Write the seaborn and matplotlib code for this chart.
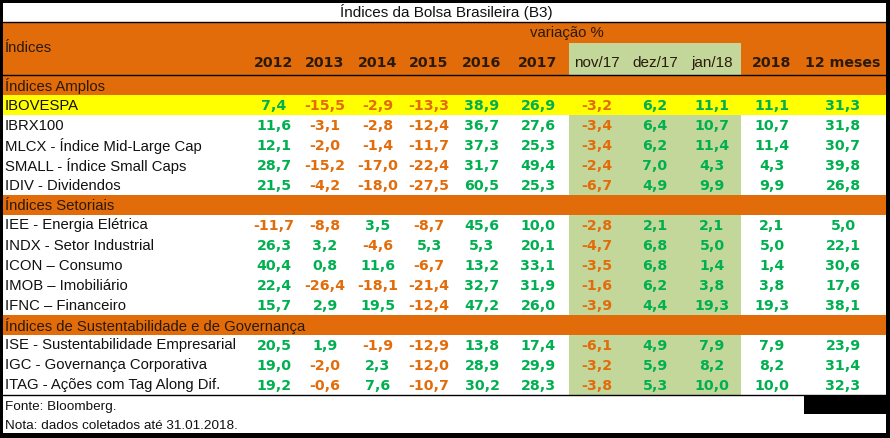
import numpy as np
import pandas as pd
import matplotlib
matplotlib.use("Agg")
import matplotlib.pyplot as plt
from matplotlib.patches import Rectangle
import seaborn as sns

# ========== DATA ==========
title = "Índices da Bolsa Brasileira (B3)"
col_labels = ["2012", "2013", "2014", "2015", "2016", "2017",
              "nov/17", "dez/17", "jan/18", "2018", "12 meses"]
bold_cols = [True] * 6 + [False] * 3 + [True] * 2

sections = ["Índices Amplos", "Índices Setoriais",
            "Índices de Sustentabilidade e de Governança"]

amplos_names = ["IBOVESPA", "IBRX100", "MLCX - Índice Mid-Large Cap",
                "SMALL - Índice Small Caps", "IDIV - Dividendos"]
amplos_vals = [
    [7.4, -15.5, -2.9, -13.3, 38.9, 26.9, -3.2, 6.2, 11.1, 11.1, 31.3],
    [11.6, -3.1, -2.8, -12.4, 36.7, 27.6, -3.4, 6.4, 10.7, 10.7, 31.8],
    [12.1, -2.0, -1.4, -11.7, 37.3, 25.3, -3.4, 6.2, 11.4, 11.4, 30.7],
    [28.7, -15.2, -17.0, -22.4, 31.7, 49.4, -2.4, 7.0, 4.3, 4.3, 39.8],
    [21.5, -4.2, -18.0, -27.5, 60.5, 25.3, -6.7, 4.9, 9.9, 9.9, 26.8],
]

setoriais_names = ["IEE - Energia Elétrica", "INDX - Setor Industrial",
                   "ICON – Consumo", "IMOB – Imobiliário", "IFNC – Financeiro"]
setoriais_vals = [
    [-11.7, -8.8, 3.5, -8.7, 45.6, 10.0, -2.8, 2.1, 2.1, 2.1, 5.0],
    [26.3, 3.2, -4.6, 5.3, 5.3, 20.1, -4.7, 6.8, 5.0, 5.0, 22.1],
    [40.4, 0.8, 11.6, -6.7, 13.2, 33.1, -3.5, 6.8, 1.4, 1.4, 30.6],
    [22.4, -26.4, -18.1, -21.4, 32.7, 31.9, -1.6, 6.2, 3.8, 3.8, 17.6],
    [15.7, 2.9, 19.5, -12.4, 47.2, 26.0, -3.9, 4.4, 19.3, 19.3, 38.1],
]

sust_names = ["ISE - Sustentabilidade Empresarial",
              "IGC - Governança Corporativa",
              "ITAG - Ações com Tag Along Dif."]
sust_vals = [
    [20.5, 1.9, -1.9, -12.9, 13.8, 17.4, -6.1, 4.9, 7.9, 7.9, 23.9],
    [19.0, -2.0, 2.3, -12.0, 28.9, 29.9, -3.2, 5.9, 8.2, 8.2, 31.4],
    [19.2, -0.6, 7.6, -10.7, 30.2, 28.3, -3.8, 5.3, 10.0, 10.0, 32.3],
]

highlight_row = "IBOVESPA"
footnotes = ["Fonte: Bloomberg.", "Nota: dados coletados até 31.01.2018."]

# ========== STYLE ==========
ORANGE = "#E26B0A"
GREEN_BG = "#C4D79B"
YELLOW = "#FFFF00"
POS = "#00B050"
NEG = "#E26B0A"
HDR_TXT = "#2A1A0A"

sns.set_style("white")
plt.rcParams["font.family"] = ["Liberation Sans", "DejaVu Sans"]
NUM_FONT = ["DejaVu Sans"]

col_x = [274, 325, 378, 429, 482, 538, 597, 655, 712, 772, 843]
FS = 10.7
NFS = 10.2

fig = plt.figure(figsize=(8.9, 4.38), dpi=100)
ax = fig.add_axes([0, 0, 1, 1])
ax.set_xlim(0, 890)
ax.set_ylim(438, 0)
ax.axis("off")

# title and header
ax.text(446, 12, title, ha="center", va="center", fontsize=FS + 0.3, color="#111111")
ax.add_patch(Rectangle((3, 22), 883, 53, color=ORANGE, lw=0))
ax.add_patch(Rectangle((569, 43), 172, 32, color=GREEN_BG, lw=0))
ax.plot([3, 886], [22, 22], color="black", lw=1)
ax.plot([3, 886], [75, 75], color="black", lw=1)
ax.text(5, 48, "Índices", ha="left", va="center", fontsize=FS, color=HDR_TXT)
ax.text(567, 33, "variação %", ha="center", va="center", fontsize=FS, color=HDR_TXT)
for x, lab, b in zip(col_x, col_labels, bold_cols):
    if b:
        ax.text(x, 63, lab, ha="center", va="center", fontsize=NFS,
                fontweight="bold", family=NUM_FONT, color=HDR_TXT)
    else:
        ax.text(x, 63, lab, ha="center", va="center", fontsize=FS + 0.3,
                color=HDR_TXT)

# body
blocks = [(sections[0], amplos_names, amplos_vals),
          (sections[1], setoriais_names, setoriais_vals),
          (sections[2], sust_names, sust_vals)]
y = 75
for sec, names, vals in blocks:
    ax.add_patch(Rectangle((3, y), 883, 20, color=ORANGE, lw=0))
    ax.text(5, y + 10.5, sec, ha="left", va="center", fontsize=FS, color=HDR_TXT)
    y += 20
    for name, row in zip(names, vals):
        if name == highlight_row:
            ax.add_patch(Rectangle((3, y), 883, 20, color=YELLOW, lw=0))
        else:
            ax.add_patch(Rectangle((569, y), 172, 20, color=GREEN_BG, lw=0))
        ax.text(5, y + 10.5, name, ha="left", va="center", fontsize=FS, color="#111111")
        for x, v in zip(col_x, row):
            ax.text(x, y + 10.5, f"{v:.1f}".replace(".", ","), ha="center",
                    va="center", fontsize=NFS, fontweight="bold", family=NUM_FONT,
                    color=POS if v >= 0 else NEG)
        y += 20

ax.plot([3, 886], [y, y], color="black", lw=1)
ax.add_patch(Rectangle((804, y), 82, 19, color="black", lw=0))
ax.text(5, 407, footnotes[0], ha="left", va="center", fontsize=FS - 1.0, color="#111111")
ax.text(5, 426, footnotes[1], ha="left", va="center", fontsize=FS - 1.0, color="#111111")

# outer black frame
for r in [(0, 0, 890, 3), (0, 0, 3, 438), (886, 0, 4, 438), (0, 433, 890, 5)]:
    ax.add_patch(Rectangle(r[:2], r[2], r[3], color="black", lw=0))

plt.savefig("out.png", dpi=100)
plt.close()
